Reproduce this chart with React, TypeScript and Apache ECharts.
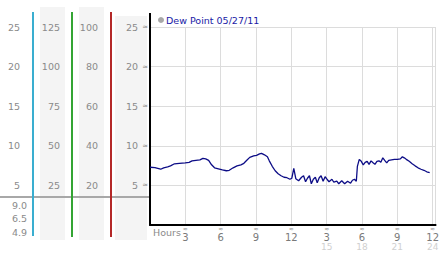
import React, { useEffect, useRef } from "react";
import * as echarts from "echarts";

const seriesName = "Dew Point 05/27/11";
const hours = [
  0.0, 0.42, 0.66, 0.91, 1.16, 1.5, 1.74, 2.08, 2.49, 2.99, 3.32, 3.57, 3.9, 4.24, 4.49, 4.73, 4.98,
  5.23, 5.48, 5.81, 6.15, 6.48, 6.73, 7.06, 7.39, 7.72, 7.97, 8.22, 8.47, 8.8, 9.05, 9.3, 9.47, 9.72,
  9.97, 10.13, 10.38, 10.63, 10.88, 11.13, 11.38, 11.63, 11.88, 12.04, 12.21, 12.38, 12.62, 12.87,
  13.04, 13.21, 13.37, 13.54, 13.7, 13.87, 14.04, 14.2, 14.37, 14.53, 14.7, 14.87, 15.03, 15.2, 15.45,
  15.61, 15.86, 16.03, 16.28, 16.53, 16.78, 17.03, 17.19, 17.36, 17.52, 17.61, 17.77, 17.94, 18.11,
  18.27, 18.44, 18.6, 18.77, 18.94, 19.1, 19.27, 19.44, 19.6, 19.77, 19.93, 20.1, 20.27, 20.51, 20.76,
  21.01, 21.26, 21.43, 21.59, 21.76, 22.01, 22.26, 22.51, 22.76, 23.01, 23.26, 23.5, 23.75,
];
const dewPoint = [
  7.29, 7.25, 7.16, 7.04, 7.22, 7.35, 7.47, 7.73, 7.79, 7.85, 7.91, 8.1, 8.17, 8.23, 8.42, 8.35, 8.17,
  7.6, 7.22, 7.1, 6.97, 6.85, 6.91, 7.22, 7.47, 7.6, 7.79, 8.17, 8.54, 8.73, 8.79, 8.98, 9.05, 8.86,
  8.61, 8.1, 7.41, 6.85, 6.47, 6.22, 6.03, 5.97, 5.78, 5.9, 7.16, 5.84, 5.59, 6.03, 6.22, 5.46, 5.9,
  6.22, 5.21, 5.78, 6.03, 5.34, 5.97, 6.22, 5.53, 6.09, 5.78, 5.46, 5.78, 5.4, 5.53, 5.21, 5.59, 5.21,
  5.53, 5.28, 5.65, 5.78, 5.53, 7.41, 8.29, 8.04, 7.6, 7.91, 8.04, 7.66, 8.1, 7.85, 7.66, 8.04, 8.1,
  7.91, 8.48, 8.17, 7.85, 8.17, 8.23, 8.29, 8.29, 8.35, 8.61, 8.48, 8.29, 8.04, 7.73, 7.47, 7.22, 7.04,
  6.91, 6.72, 6.6,
];
const summaryLabels = ["9.0", "6.5", "4.9"];
const hourTickLabels = ["3", "6", "9", "12", "3", "6", "9", "12"];
const secondRowLabels = ["", "", "", "", "15", "18", "21", "24"];

const FONT = "DejaVu Sans";
const LABEL_GRAY = "#8a8a8a";
const MARK = "≈";

export default function App() {
  const ref = useRef<HTMLDivElement>(null);
  useEffect(() => {
    document.body.style.margin = "0";
    const chart = echarts.init(ref.current!, null, { renderer: "svg" });
    const data = hours.map((h, i) => [h, dewPoint[i]]);

    const sideAxis = (max: number, interval: number, offset: number) => ({
      type: "value",
      position: "left",
      min: 0,
      max,
      interval,
      offset,
      axisLine: { show: false },
      axisTick: { show: false },
      splitLine: { show: false },
      axisLabel: {
        margin: 0,
        color: LABEL_GRAY,
        fontFamily: FONT,
        fontSize: 9.5,
        formatter: (v: number) => (v === 0 ? "" : String(v)),
      },
    });

    const graphic: any[] = [
      { type: "rect", z: -10, shape: { x: 40, y: 7, width: 25, height: 233 }, style: { fill: "#f4f4f4" } },
      { type: "rect", z: -10, shape: { x: 79, y: 7, width: 25, height: 233 }, style: { fill: "#f4f4f4" } },
      { type: "rect", z: -10, shape: { x: 115, y: 16, width: 32, height: 224 }, style: { fill: "#f4f4f4" } },
      { type: "line", z: 1, shape: { x1: 0, y1: 197, x2: 149, y2: 197 }, style: { stroke: "#a8a8a8", lineWidth: 2 } },
      { type: "line", z: 2, shape: { x1: 33, y1: 12, x2: 33, y2: 236 }, style: { stroke: "#3aaed0", lineWidth: 2 } },
      { type: "line", z: 2, shape: { x1: 72, y1: 12, x2: 72, y2: 237 }, style: { stroke: "#34a534", lineWidth: 2 } },
      { type: "line", z: 2, shape: { x1: 111, y1: 12, x2: 111, y2: 237 }, style: { stroke: "#b42828", lineWidth: 2 } },
      { type: "line", z: 2, shape: { x1: 150, y1: 13, x2: 150, y2: 28 }, style: { stroke: "#000", lineWidth: 2 } },
      {
        type: "text",
        x: 153,
        y: 232,
        style: { text: "Hours", fill: LABEL_GRAY, font: `9.5px "${FONT}"`, textVerticalAlign: "middle" },
      },
      ...summaryLabels.map((t, i) => ({
        type: "text",
        x: 27,
        y: 205 + i * 13.7,
        style: {
          text: t,
          fill: LABEL_GRAY,
          font: `9.5px "${FONT}"`,
          textAlign: "right",
          textVerticalAlign: "middle",
        },
      })),
    ];

    chart.setOption({
      animation: false,
      textStyle: { fontFamily: FONT },
      grid: { left: 150, top: 27, width: 292, height: 198, containLabel: false },
      legend: {
        left: 153,
        top: 10,
        icon: "circle",
        itemWidth: 6,
        itemHeight: 6,
        data: [{ name: seriesName, itemStyle: { color: "#a8a8a8" } }],
        textStyle: { color: "#1a1aa6", fontSize: 9.5, fontFamily: FONT, padding: [0, 0, 0, -3] },
        selectedMode: false,
      },
      xAxis: {
        type: "value",
        min: 0,
        max: 24.25,
        interval: 3,
        axisLine: { show: true, lineStyle: { color: "#000", width: 2 } },
        axisTick: { show: false },
        splitLine: { show: true, lineStyle: { color: "#dcdcdc", width: 1 } },
        axisLabel: {
          margin: 0,
          showMinLabel: false,
          showMaxLabel: true,
          formatter: (v: number) => {
            if (v === 0 || Math.abs(v / 3 - Math.round(v / 3)) > 1e-6) return "";
            const i = Math.round(v / 3) - 1;
            if (i < 0 || i >= hourTickLabels.length) return "";
            const second = secondRowLabels[i];
            return `{m|${MARK}}\n{a|${hourTickLabels[i]}}` + (second ? `\n{b|${second}}` : "");
          },
          rich: {
            m: { fontSize: 6, lineHeight: 7, color: "#8c8c8c", fontFamily: FONT },
            a: { fontSize: 10, lineHeight: 10, color: "#7a7a7a", fontFamily: FONT },
            b: { fontSize: 9, lineHeight: 9, color: "#d0d0d0", fontFamily: FONT },
          },
        },
      },
      yAxis: [
        {
          type: "value",
          position: "left",
          min: 0,
          max: 25,
          interval: 5,
          axisLine: { show: true, lineStyle: { color: "#000", width: 2 } },
          axisTick: { show: false },
          splitLine: { show: true, lineStyle: { color: "#dcdcdc", width: 1 } },
          axisLabel: {
            margin: 2,
            formatter: (v: number) => (v === 0 ? "" : `{v|${v}}{m|${MARK}}`),
            rich: {
              v: { fontSize: 9.5, color: LABEL_GRAY, fontFamily: FONT },
              m: { fontSize: 7, color: "#8c8c8c", fontFamily: FONT, padding: [0, 0, 0, 4] },
            },
          },
        },
        sideAxis(100, 20, 52),
        sideAxis(125, 25, 90),
        sideAxis(25, 5, 130),
      ],
      series: [
        {
          name: seriesName,
          type: "line",
          data,
          showSymbol: false,
          symbol: "none",
          lineStyle: { color: "#0c0c86", width: 1.3 },
          itemStyle: { color: "#0c0c86" },
          z: 5,
        },
      ],
      graphic,
    });
    return () => chart.dispose();
  }, []);
  return <div ref={ref} style={{ position: "absolute", left: 0, top: 0, width: 442, height: 253 }} />;
}
